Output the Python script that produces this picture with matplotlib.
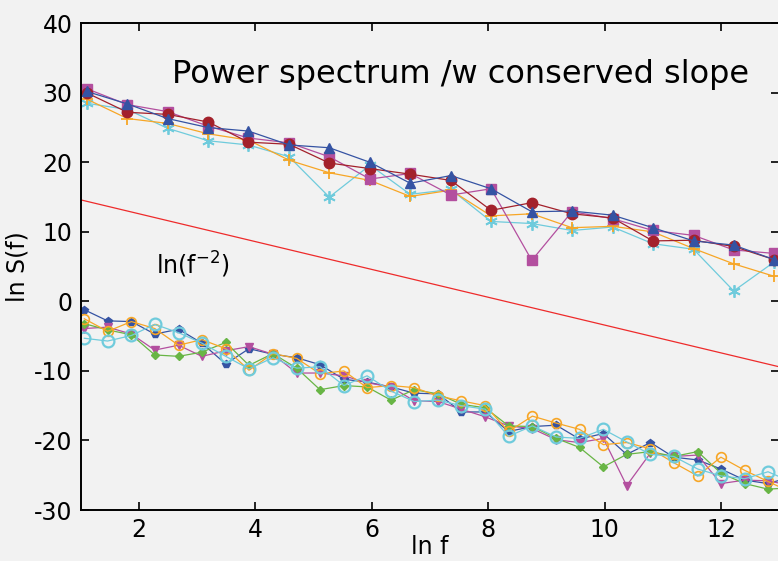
import numpy as np
import matplotlib.pyplot as plt

# x positions (ln f)
x_top = [1.10, 1.80, 2.49, 3.19, 3.88, 4.58, 5.27, 5.97, 6.66, 7.36,
         8.05, 8.75, 9.44, 10.14, 10.83, 11.53, 12.22, 12.92]
x_bot = [1.06, 1.46, 1.87, 2.27, 2.68, 3.08, 3.49, 3.89, 4.30, 4.71,
         5.11, 5.52, 5.92, 6.33, 6.73, 7.14, 7.54, 7.95, 8.35, 8.76,
         9.17, 9.57, 9.98, 10.38, 10.79, 11.19, 11.60, 12.00, 12.41, 12.81, 13.22]

# upper group (conserved slope)
top_red = [30.0, 27.2, 26.9, 25.8, 22.9, 22.6, 19.9, 19.1, 18.3, 17.4,
           13.1, 14.2, 12.6, 12.0, 8.7, 8.8, 7.9, 6.0]
top_blue = [30.2, 28.4, 26.3, 25.0, 24.5, 22.5, 22.1, 20.0, 17.0, 18.1,
            16.2, 12.9, 13.0, 12.4, 10.6, 8.7, 8.1, 6.0]
top_magenta = [30.6, 28.3, 27.3, 25.2, 23.5, 22.8, 20.8, 17.6, 18.4, 15.3,
               16.2, 5.9, 12.9, 11.9, 10.2, 9.5, 7.4, 6.9]
top_orange = [29.1, 26.3, 25.6, 24.1, 23.2, 20.3, 18.5, 17.4, 15.1, 16.0,
              12.3, 12.6, 10.6, 10.8, 10.0, 7.6, 5.4, 3.6]
top_cyan = [28.5, 27.6, 24.9, 23.1, 22.5, 20.8, 15.0, 19.6, 15.4, 16.1,
            11.5, 11.2, 10.2, 10.7, 8.3, 7.5, 1.5, 5.7]

# lower group
bot_blue = [-1.2, -2.8, -2.9, -4.7, -4.0, -6.0, -9.0, -6.8, -7.6, -8.1,
            -9.1, -11.2, -11.6, -12.3, -13.2, -13.3, -15.9, -15.9, -18.7, -18.0,
            -17.8, -19.8, -19.0, -22.0, -20.3, -22.4, -22.8, -24.1, -25.7, -26.2, -25.2]
bot_orange = [-2.5, -4.3, -2.9, -3.9, -6.3, -5.5, -6.8, -9.9, -7.5, -8.2,
              -10.4, -10.0, -12.4, -12.1, -12.4, -13.6, -14.3, -15.0, -18.7, -16.5,
              -17.5, -18.4, -20.6, -20.3, -21.2, -23.2, -25.1, -22.4, -24.3, -25.9, -27.5]
bot_green = [-3.2, -4.1, -4.8, -7.7, -7.9, -7.3, -5.9, -9.2, -7.5, -9.6,
             -12.7, -12.1, -12.3, -14.2, -12.7, -13.3, -14.8, -15.3, -17.9, -18.0,
             -19.7, -21.0, -23.8, -22.0, -21.6, -22.3, -21.6, -24.7, -26.2, -27.0, -26.8]
bot_magenta = [-3.9, -3.7, -4.7, -7.0, -6.3, -7.9, -7.1, -6.5, -7.6, -10.3,
               -10.3, -10.7, -11.7, -12.3, -14.3, -14.4, -15.5, -16.6, -17.9, -18.3,
               -19.9, -20.3, -19.7, -26.5, -21.8, -22.3, -22.1, -26.2, -25.7, -25.8, -26.5]
bot_cyan = [-5.3, -5.7, -4.9, -3.3, -4.5, -6.0, -7.9, -9.7, -8.1, -9.6,
            -9.4, -12.1, -10.7, -12.9, -14.4, -14.2, -15.0, -15.5, -19.4, -17.9,
            -19.5, -19.7, -18.4, -20.2, -22.0, -22.3, -24.1, -25.1, -25.5, -24.5, -26.0]

# reference line ln(f^-2)
x_ref = [1.0, 13.0]
y_ref = [14.6, -9.4]

bg = '#f2f2f2'
plt.rcParams['font.family'] = ['DejaVu Sans']
plt.rcParams['axes.unicode_minus'] = False

fig = plt.figure(figsize=(7.78, 5.61), dpi=100, facecolor=bg)
ax = fig.add_axes([0.1039, 0.0909, 0.8975, 0.8676])
ax.set_facecolor(bg)

lw = 0.9
ax.plot(x_ref, y_ref, color='#ee2b2b', lw=0.9)

ax.plot(x_top, top_cyan, color='#6fcbdc', lw=lw, marker=(6, 2, 0), ms=9, mew=1.3)
ax.plot(x_top, top_orange, color='#f7a626', lw=lw, marker='+', ms=9, mew=1.3)
ax.plot(x_top, top_magenta, color='#b34f9f', lw=lw, marker='s', ms=7)
ax.plot(x_top, top_red, color='#a3212b', lw=lw, marker='o', ms=7.5)
ax.plot(x_top, top_blue, color='#3553a3', lw=lw, marker='^', ms=7)

ax.plot(x_bot, bot_blue, color='#3553a3', lw=lw, marker='p', ms=6)
ax.plot(x_bot, bot_magenta, color='#b34f9f', lw=lw, marker='v', ms=6)
ax.plot(x_bot, bot_green, color='#68b545', lw=lw, marker='D', ms=4.5)
ax.plot(x_bot, bot_orange, color='#f7a626', lw=lw, marker='o', ms=7, mfc='none', mew=1.2)
ax.plot(x_bot, bot_cyan, color='#6fcbdc', lw=lw, marker='o', ms=8.5, mfc='none', mew=1.6)

ax.set_xlim(1, 13)
ax.set_ylim(-30, 40)
ax.set_xticks([2, 4, 6, 8, 10, 12])
ax.set_yticks([-30, -20, -10, 0, 10, 20, 30, 40])
ax.tick_params(direction='in', length=6, width=1.2, labelsize=17,
               top=True, right=True, pad=6)
for s in ax.spines.values():
    s.set_linewidth(1.4)

ax.set_xlabel('ln f', fontsize=17, labelpad=-5)
ax.set_ylabel('ln S(f)', fontsize=17)
ax.yaxis.set_label_coords(-0.073, 0.5)

ax.text(7.53, 32.6, 'Power spectrum /w conserved slope', fontsize=23,
        ha='center', va='center')
ax.text(2.3, 5.3, 'ln(f$^{-2}$)', fontsize=17, ha='left', va='center')

plt.savefig('out.png', dpi=100, facecolor=bg)
